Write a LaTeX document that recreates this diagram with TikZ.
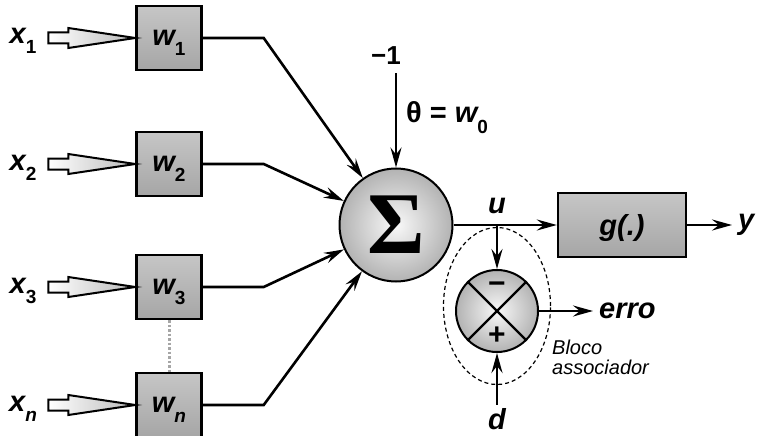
\documentclass[tikz,border=0pt]{standalone}
\usepackage{fontspec}
\setmainfont{Liberation Sans}
\newfontfamily\sigmafont{Liberation Serif}
\usetikzlibrary{arrows.meta,positioning,shapes.geometric}

\newcommand{\lowidx}[1]{\raisebox{-10pt}{\fontsize{19}{19}\selectfont #1}}

\tikzset{
  lbl/.style={font=\fontsize{29}{29}\selectfont\bfseries\itshape, inner sep=0pt},
  wbox/.style={draw, line width=2.4pt, minimum width=65pt, minimum height=64pt, text depth=0pt,
    top color=gray!45, middle color=gray!5, bottom color=gray!70,
    font=\fontsize{29}{29}\selectfont\bfseries\itshape},
  sumnode/.style={circle, draw, line width=2pt, inner color=gray!5, outer color=gray!60},
  link/.style={line width=2.6pt, -{Stealth[length=20pt,width=11pt,inset=7pt]}},
  inarrow/.style={draw, line width=2pt, left color=white, right color=gray!55},
  sign/.style={font=\fontsize{30}{30}\selectfont\bfseries, inner sep=0pt}
}

\begin{document}
\begin{tikzpicture}[x=1pt, y=-1pt]
\useasboundingbox (0,0) rectangle (764,436);

% pesos
\node[wbox] (w1) at (169,38) {w\lowidx{\upshape 1}};
\node[wbox] (w2) at (169,164) {w\lowidx{\upshape 2}};
\node[wbox] (w3) at (169,287) {w\lowidx{\upshape 3}};
\node[wbox] (wn) at (169,405) {w\lowidx{n}};
\draw[gray!70, line width=3pt, dash pattern=on 2.5pt off 2pt] (w3.south) -- (wn.north);

% entradas
\node[lbl, anchor=base] (x1) at (23,44) {x\lowidx{\upshape 1}};
\node[lbl, anchor=base] (x2) at (23,170) {x\lowidx{\upshape 2}};
\node[lbl, anchor=base] (x3) at (23,293) {x\lowidx{\upshape 3}};
\node[lbl, anchor=base] (xn) at (23,411) {x\lowidx{n}};

\draw[inarrow] (w1.west) -- ++(-67,-10) -- ++(0,4.5) -- ++(-20,0) -- ++(0,11) -- ++(20,0) -- ++(0,4.5) -- cycle;
\draw[inarrow] (w2.west) -- ++(-67,-10) -- ++(0,4.5) -- ++(-20,0) -- ++(0,11) -- ++(20,0) -- ++(0,4.5) -- cycle;
\draw[inarrow] (w3.west) -- ++(-67,-10) -- ++(0,4.5) -- ++(-20,0) -- ++(0,11) -- ++(20,0) -- ++(0,4.5) -- cycle;
\draw[inarrow] (wn.west) -- ++(-67,-10) -- ++(0,4.5) -- ++(-20,0) -- ++(0,11) -- ++(20,0) -- ++(0,4.5) -- cycle;

% somador
\node[sumnode, minimum size=113pt, font=\fontsize{88}{88}\sigmafont\bfseries] (sigma) at (396,225) {Σ};

\draw[link] (w1.east) -- ++(61,0) -- (sigma);
\draw[link] (w2.east) -- ++(61,0) -- (sigma);
\draw[link] (w3.east) -- ++(61,0) -- (sigma);
\draw[link] (wn.east) -- ++(61,0) -- (sigma);

% limiar
\node[lbl, font=\fontsize{26}{26}\selectfont\bfseries, anchor=base, inner sep=8pt] (bias) at (386,65) {−1};
\draw[link] (bias.south -| sigma.north) -- (sigma.north);
\node[lbl, anchor=base west] (theta) at (406,123) {\upshape θ = \itshape w\lowidx{\upshape 0}};

% ativacao
\node[wbox, minimum width=128pt] (g) at (622,225) {g(.)};
\node[lbl, anchor=base] (u) at (497,213) {u};
\draw[link] (sigma.east) -- (g.west);
\node[lbl, anchor=west, inner sep=6pt] (y) at (732,225) {y};
\draw[link] (g.east) -- (y.west);

% bloco associador
\node[ellipse, draw, line width=1.2pt, dash pattern=on 4pt off 3pt, minimum width=107pt, minimum height=157pt] (assoc) at (497,306) {};
\node[sumnode, minimum size=82pt] (cmp) at (497,311) {};
\draw[line width=2.4pt] (cmp.north west) -- (cmp.south east) (cmp.north east) -- (cmp.south west);
\node[sign] (minus) at ([yshift=23pt]cmp.center) {−};
\node[sign] (plus) at ([yshift=-25pt]cmp.center) {+};
\coordinate (ujoin) at (cmp.north |- sigma.east);
\draw[link] (ujoin) -- (cmp.north);
\node[lbl, anchor=base, inner sep=3pt] (d) at (497,429) {d};
\draw[link] (d.north) -- (cmp.south);
\node[lbl, anchor=west, inner sep=6pt] (erro) at (593,311) {erro};
\draw[link] (cmp.east) -- (erro.west);
\node[anchor=north west, align=left, inner sep=0pt, font=\fontsize{20}{19.5}\selectfont\itshape] (assoclbl) at (552,340) {Bloco\\associador};
\end{tikzpicture}
\end{document}
